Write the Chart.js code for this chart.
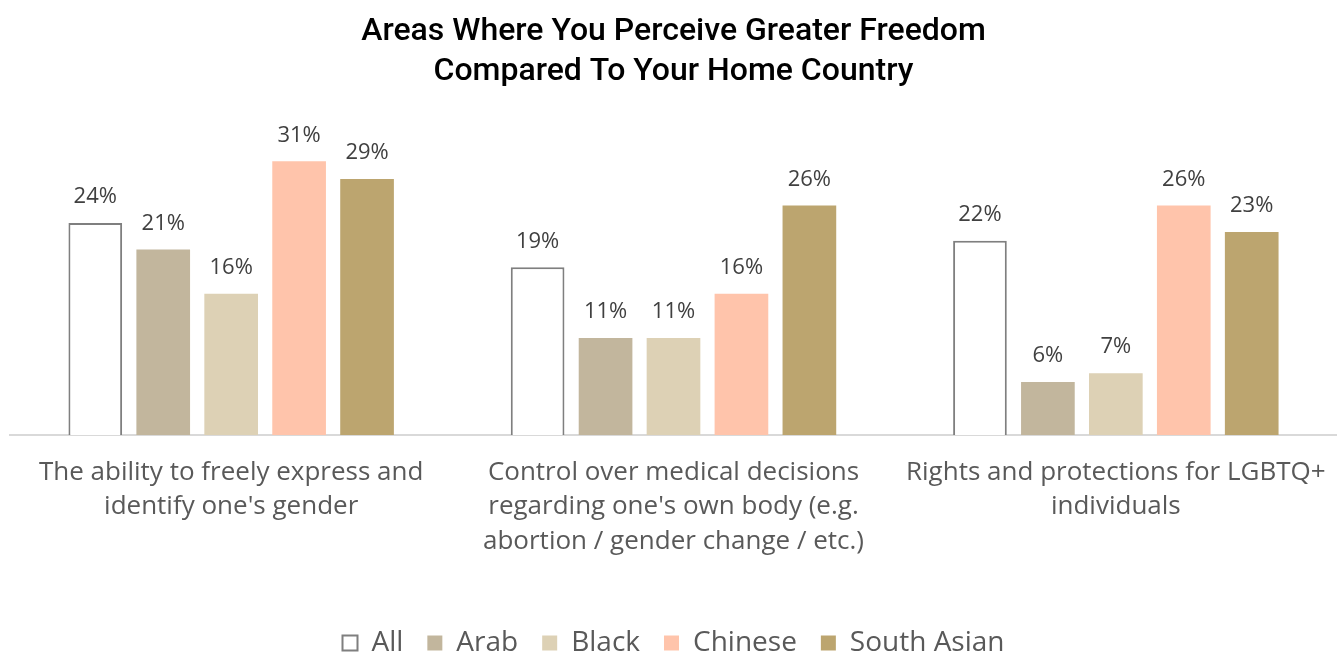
<!DOCTYPE html>
<html>
<head>
<meta charset="utf-8">
<script src="https://cdn.jsdelivr.net/npm/chart.js@4.4.1/dist/chart.umd.min.js"></script>
<style>
  html, body { margin: 0; padding: 0; background: #ffffff; }
  #wrap { width: 1337px; height: 658px; }
</style>
</head>
<body>
<div id="wrap"><canvas id="chart" width="1337" height="658"></canvas></div>
<script>
// Categories (multi-line axis labels)
const categories = [
  ["The ability to freely express and", "identify one's gender"],
  ["Control over medical decisions", "regarding one's own body (e.g.", "abortion / gender change / etc.)"],
  ["Rights and protections for LGBTQ+", "individuals"]
];

// Series values, in percent
const seriesNames = ["All", "Arab", "Black", "Chinese", "South Asian"];
const allValues = [24, 19, 22];
const arabValues = [21, 11, 6];
const blackValues = [16, 11, 7];
const chineseValues = [31, 16, 26];
const southAsianValues = [29, 26, 23];

const titleLines = ["Areas Where You Perceive Greater Freedom", "Compared To Your Home Country"];

// Writes each bar's value just above it
const valueLabels = {
  id: 'valueLabels',
  afterDatasetsDraw(chart) {
    const ctx = chart.ctx;
    ctx.save();
    ctx.font = '22px "Open Sans", "Noto Sans", sans-serif';
    ctx.fillStyle = '#404040';
    ctx.textAlign = 'center';
    ctx.textBaseline = 'middle';
    chart.data.datasets.forEach((ds, i) => {
      const meta = chart.getDatasetMeta(i);
      if (meta.hidden) return;
      meta.data.forEach((bar, j) => {
        ctx.fillText(ds.data[j] + '%', bar.x, bar.y - 26);
      });
    });
    ctx.restore();
  }
};

new Chart(document.getElementById('chart'), {
  type: 'bar',
  data: {
    labels: categories,
    datasets: [
      { label: seriesNames[0], data: allValues, backgroundColor: '#ffffff', borderColor: '#7f7f7f', borderWidth: 2 },
      { label: seriesNames[1], data: arabValues, backgroundColor: '#c2b69d', borderWidth: 0 },
      { label: seriesNames[2], data: blackValues, backgroundColor: '#ddd1b5', borderWidth: 0 },
      { label: seriesNames[3], data: chineseValues, backgroundColor: '#ffc4ab', borderWidth: 0 },
      { label: seriesNames[4], data: southAsianValues, backgroundColor: '#bca56f', borderWidth: 0 }
    ]
  },
  options: {
    responsive: false,
    animation: false,
    layout: { padding: { left: 10, right: 0, top: 0, bottom: -9 } },
    datasets: {
      bar: { categoryPercentage: 0.768, barPercentage: 0.79 }
    },
    scales: {
      x: {
        grid: { display: false, drawTicks: false },
        border: { display: true, color: '#d9d9d9', width: 2 },
        ticks: {
          color: '#595959',
          font: { family: '"Open Sans", "Noto Sans", sans-serif', size: 26, lineHeight: 1.31 },
          padding: 21,
          maxRotation: 0,
          autoSkip: false
        },
        // leave room between the category labels and the legend; let the axis run edge to edge
        afterFit(scale) {
          scale.height = 170;
          scale.paddingLeft = 0;
          scale.paddingRight = 0;
        }
      },
      y: {
        display: false,
        min: 0,
        max: 35
      }
    },
    plugins: {
      title: {
        display: true,
        text: titleLines,
        color: '#000000',
        font: { family: 'Roboto, "Liberation Sans", sans-serif', size: 32, weight: '500', lineHeight: 1.25 },
        padding: { top: 12, bottom: 34 }
      },
      legend: {
        position: 'bottom',
        labels: {
          color: '#595959',
          font: { family: '"Open Sans", "Noto Sans", sans-serif', size: 28 },
          boxWidth: 15,
          boxHeight: 15,
          padding: 24
        }
      },
      tooltip: { enabled: false }
    }
  },
  plugins: [valueLabels]
});
</script>
</body>
</html>
